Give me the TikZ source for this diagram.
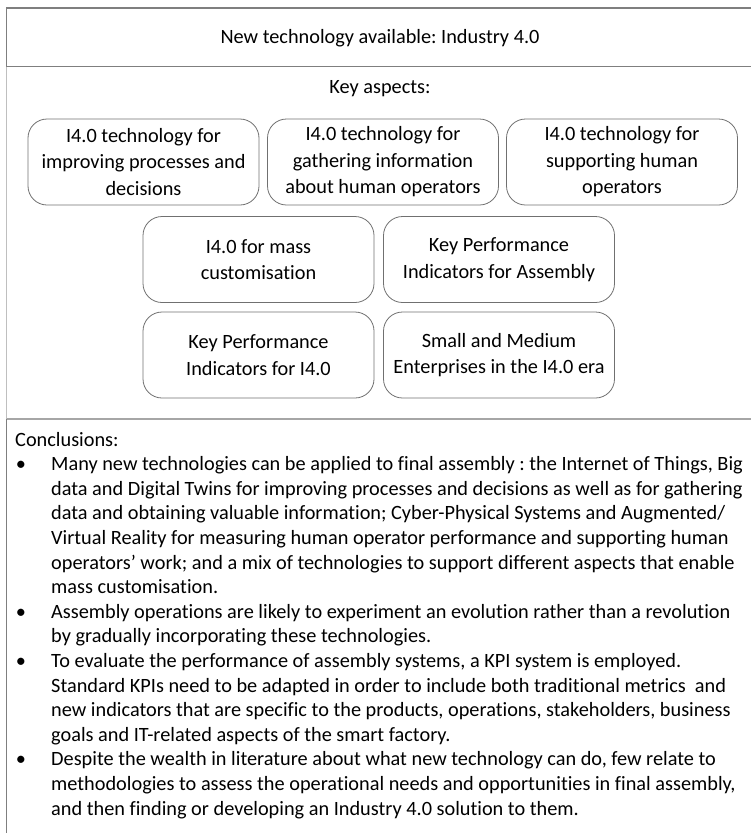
\documentclass[tikz,border=0pt]{standalone}
\usepackage{fontspec}
\setmainfont{Carlito}[Ligatures=NoCommon]
\frenchspacing
\newcommand\bodysize{\fontsize{20.3}{26.5}\selectfont}
\definecolor{framegray}{HTML}{7F7F7F}
\definecolor{palegray}{HTML}{BFBFBF}
\definecolor{sepgray}{HTML}{A6A6A6}
\definecolor{boxgray}{HTML}{707070}
\begin{document}
\begin{tikzpicture}[x=1pt,y=-1pt,
  frame/.style={draw=framegray,line width=1.3pt},
  paleframe/.style={draw=palegray,line width=1.3pt},
  sepline/.style={draw=sepgray,line width=2pt},
  aspect/.style={draw=boxgray,line width=0.8pt,rounded corners=19pt,
    minimum width=231pt,minimum height=86pt,align=center,inner sep=0pt,
    font=\bodysize},
  label/.style={inner sep=0pt,font=\bodysize},
  textline/.style={inner sep=0pt,font=\bodysize,anchor=base west},
  dot/.style={inner sep=0pt,font=\bodysize,anchor=base}]
\useasboundingbox (0,0) rectangle (751,833);

% outer frame and section rules
\draw[frame] (6.5,66.5) -- (6.5,8) -- (751,8);
\draw[frame] (6.5,66.5) -- (751,66.5);
\draw[paleframe] (6.5,66.5) -- (6.5,419);
\draw[frame] (6.5,419) -- (6.5,833);
\draw[sepline] (6.5,419) -- (751,419);

% headings
\node[label] (title) at (380,38) {New technology available: Industry 4.0};
\node[label] (keys) at (380,89) {Key aspects:};

% key aspect boxes
\node[aspect] (a1) at (143.5,162) {I4.0 technology for\\improving processes and\\decisions};
\node[aspect] (a2) at (383,162) {I4.0 technology for\\gathering information\\about human operators};
\node[aspect] (a3) at (622,162) {I4.0 technology for\\supporting human\\operators};
\node[aspect] (a4) at (258.5,259.5) {I4.0 for mass\\customisation};
\node[aspect] (a5) at (499,259.5) {Key Performance\\Indicators for Assembly};
\node[aspect] (a6) at (258.5,355) {Key Performance\\Indicators for I4.0};
\node[aspect] (a7) at (499,355) {Small and Medium\\Enterprises in the I4.0 era};

% conclusions
\node[textline] (ch) at (15,446) {Conclusions:};

\node[dot] (b1) at (21,470.6) {•};
\node[textline] (l1) at (51,470.6) {Many new technologies can be applied to final assembly : the Internet of Things, Big};
\node[textline] (l2) at (51,495.2) {data and Digital Twins for improving processes and decisions as well as for gathering};
\node[textline] (l3) at (51,519.8) {data and obtaining valuable information; Cyber-Physical Systems and Augmented/};
\node[textline] (l4) at (51,544.4) {Virtual Reality for measuring human operator performance and supporting human};
\node[textline] (l5) at (51,569.0) {operators’ work; and a mix of technologies to support different aspects that enable};
\node[textline] (l6) at (51,593.6) {mass customisation.};

\node[dot] (b2) at (21,618.2) {•};
\node[textline] (l7) at (51,618.2) {Assembly operations are likely to experiment an evolution rather than a revolution};
\node[textline] (l8) at (51,642.8) {by gradually incorporating these technologies.};

\node[dot] (b3) at (21,667.4) {•};
\node[textline] (l9) at (51,667.4) {To evaluate the performance of assembly systems, a KPI system is employed.};
\node[textline] (l10) at (51,692.0) {Standard KPIs need to be adapted in order to include both traditional metrics\ \ and};
\node[textline] (l11) at (51,716.6) {new indicators that are specific to the products, operations, stakeholders, business};
\node[textline] (l12) at (51,741.2) {goals and IT-related aspects of the smart factory.};

\node[dot] (b4) at (21,765.8) {•};
\node[textline] (l13) at (51,765.8) {Despite the wealth in literature about what new technology can do, few relate to};
\node[textline] (l14) at (51,790.4) {methodologies to assess the operational needs and opportunities in final assembly,};
\node[textline] (l15) at (51,815.0) {and then finding or developing an Industry 4.0 solution to them.};
\end{tikzpicture}
\end{document}
